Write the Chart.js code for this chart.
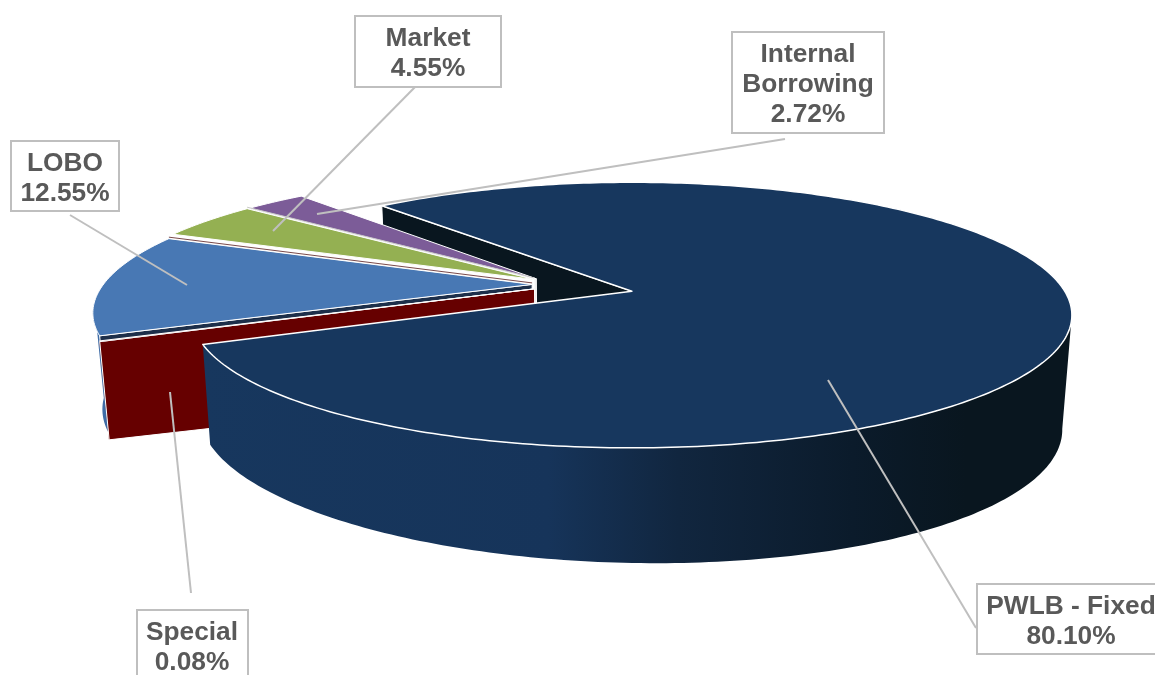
<!DOCTYPE html>
<html>
<head>
<meta charset="utf-8">
<title>Debt by type</title>
<script src="https://cdn.jsdelivr.net/npm/chart.js@4"></script>
<style>
    html, body { margin: 0; padding: 0; background: #ffffff; overflow: hidden; }
    #pieChart { display: block; }
</style>
</head>
<body>
<canvas id="pieChart" width="1155" height="675"></canvas>
<script>
// Chart data
const categories = ['PWLB - Fixed', 'Special', 'LOBO', 'Market', 'Internal Borrowing'];
const shares = [80.10, 0.08, 12.55, 4.55, 2.72];

// Slice styles
const topColors = ['#17375e', '#660000', '#4878b4', '#94b052', '#7c5c98'];
const rimColors = ['#09161f', '#660000', '#3f6ca6', '#94b052', '#7c5c98'];
const cutColors = ['#09161f', '#660000', '#1d2f4a', '#ffffff', '#eeeeee'];
const explode = [0.236, 0.0, 0.0, 0.0, 0.0];
const nudgeX = [0, 0.004, -0.003, 0, 0.005];
const nudgeY = [0, 0.035, 0, -0.04, -0.045];
const startRotation = -41;

// Perspective of the top and bottom planes of the pie
const baseCentre = { x: -0.23, y: -0.075 };
const topPlane = { x0: 632, y0: 294, ax: 434.5, ay: 129.5, shear: 0 };
const bottomPlane = { x0: 631, y0: 399, ax: 426, ay: 138, shear: 0.019 };
const tilt = 0.18;

// Part of the rim that faces the viewer
const wallFrom = 10 * Math.PI / 180;
const wallTo = 172 * Math.PI / 180;

// Label boxes
const labelLayout = [
    { lines: ['PWLB - Fixed'], box: [977, 584, 188, 70], cx: 1071, from: [976, 628], to: [828, 380] },
    { lines: ['Special'], box: [137, 610, 111, 72], cx: 192, from: [191, 593], to: [170, 392] },
    { lines: ['LOBO'], box: [11, 141, 108, 70], cx: 65, from: [70, 215], to: [187, 285] },
    { lines: ['Market'], box: [355, 16, 146, 71], cx: 428, from: [418, 84], to: [273, 231] },
    { lines: ['Internal', 'Borrowing'], box: [732, 32, 152, 101], cx: 808, from: [785, 139], to: [317, 214] }
];

function project(plane, px, py) {
    const s = 1 / (1 - tilt * py);
    return {
        x: plane.x0 + plane.ax * px * s,
        y: plane.y0 + plane.ay * py * s + plane.shear * plane.ax * px * s
    };
}

function sliceApex(arc, index) {
    const { startAngle, endAngle } = arc.getProps(['startAngle', 'endAngle'], true);
    const mid = (startAngle + endAngle) / 2;
    return {
        x: baseCentre.x + nudgeX[index] + Math.cos(mid) * explode[index],
        y: baseCentre.y + nudgeY[index] + Math.sin(mid) * explode[index]
    };
}

function arcPoints(plane, apex, start, end) {
    const steps = Math.max(2, Math.ceil((end - start) * 60));
    const points = [];
    for (let i = 0; i <= steps; i++) {
        const a = start + (end - start) * i / steps;
        points.push(project(plane, apex.x + Math.cos(a), apex.y + Math.sin(a)));
    }
    return points;
}

function tracePath(ctx, points) {
    ctx.beginPath();
    points.forEach((p, i) => {
        if (i === 0) ctx.moveTo(p.x, p.y);
        else ctx.lineTo(p.x, p.y);
    });
    ctx.closePath();
}

function drawOuterWall(ctx, index, arc, fill) {
    const { startAngle, endAngle } = arc.getProps(['startAngle', 'endAngle'], true);
    const from = Math.max(startAngle, wallFrom);
    const to = Math.min(endAngle, wallTo);
    if (to <= from) return;

    const apex = sliceApex(arc, index);
    const topArc = arcPoints(topPlane, apex, from, to);
    const bottomArc = arcPoints(bottomPlane, apex, from, to);

    tracePath(ctx, topArc.concat(bottomArc.reverse()));
    ctx.fillStyle = fill || rimColors[index];
    ctx.fill();
}

function drawStartWall(ctx, index, arc) {
    const { startAngle } = arc.getProps(['startAngle'], true);
    const apex = sliceApex(arc, index);
    const rimX = apex.x + Math.cos(startAngle);
    const rimY = apex.y + Math.sin(startAngle);

    tracePath(ctx, [
        project(topPlane, apex.x, apex.y),
        project(topPlane, rimX, rimY),
        project(bottomPlane, rimX, rimY),
        project(bottomPlane, apex.x, apex.y)
    ]);
    ctx.fillStyle = cutColors[index];
    ctx.fill();
    ctx.strokeStyle = '#ffffff';
    ctx.lineWidth = 1;
    ctx.stroke();
}

function drawSliceTop(ctx, index, arc) {
    const { startAngle, endAngle } = arc.getProps(['startAngle', 'endAngle'], true);
    const apex = sliceApex(arc, index);
    const points = [project(topPlane, apex.x, apex.y)].concat(arcPoints(topPlane, apex, startAngle, endAngle));

    tracePath(ctx, points);
    ctx.fillStyle = topColors[index];
    ctx.fill();
    ctx.strokeStyle = '#ffffff';
    ctx.lineWidth = index === 0 ? 1.5 : 1;
    ctx.stroke();
}

// Thin dark line just above the far edge of a slice
function drawEdgeTint(ctx, index, arc, color) {
    const { endAngle } = arc.getProps(['endAngle'], true);
    const apex = sliceApex(arc, index);
    const a = project(topPlane, apex.x, apex.y);
    const b = project(topPlane, apex.x + Math.cos(endAngle), apex.y + Math.sin(endAngle));
    ctx.beginPath();
    ctx.moveTo(a.x, a.y - 1.5);
    ctx.lineTo(b.x, b.y - 1.5);
    ctx.strokeStyle = color;
    ctx.lineWidth = 1;
    ctx.stroke();
}

// Replaces the flat pie drawing with the tilted one, using the arcs the library computed
const pie3dPlugin = {
    id: 'pie3d',
    beforeDatasetsDraw(chart) {
        const ctx = chart.ctx;
        const arcs = chart.getDatasetMeta(0).data;
        const backToFront = [4, 3, 2, 1];

        ctx.save();
        ctx.lineJoin = 'round';
        drawStartWall(ctx, 0, arcs[0]);

        backToFront.forEach((i) => {
            drawOuterWall(ctx, i, arcs[i]);
            drawStartWall(ctx, i, arcs[i]);
            drawSliceTop(ctx, i, arcs[i]);
        });
        drawEdgeTint(ctx, 2, arcs[2], '#7a4a4a');
        drawEdgeTint(ctx, 3, arcs[3], '#c8c8c8');

        // Wall of the big slice fades to the right
        const wallFill = ctx.createLinearGradient(200, 0, 1070, 0);
        wallFill.addColorStop(0, '#17375e');
        wallFill.addColorStop(0.4, '#16345a');
        wallFill.addColorStop(0.55, '#11263f');
        wallFill.addColorStop(0.75, '#0b1b2b');
        wallFill.addColorStop(0.88, '#09161f');
        wallFill.addColorStop(1, '#09161f');
        drawOuterWall(ctx, 0, arcs[0], wallFill);
        drawSliceTop(ctx, 0, arcs[0]);
        ctx.restore();
        return false;
    },
    afterDraw(chart) {
        const ctx = chart.ctx;
        ctx.save();

        // Leader lines
        ctx.strokeStyle = '#bfbfbf';
        ctx.lineWidth = 2;
        labelLayout.forEach((label) => {
            ctx.beginPath();
            ctx.moveTo(label.from[0], label.from[1]);
            ctx.lineTo(label.to[0], label.to[1]);
            ctx.stroke();
        });

        // Boxes and text
        ctx.font = 'bold 26.3px "Liberation Sans", Arial, sans-serif';
        ctx.textAlign = 'center';
        ctx.textBaseline = 'middle';
        labelLayout.forEach((label, i) => {
            const [x, y, w, h] = label.box;
            ctx.fillStyle = '#ffffff';
            ctx.fillRect(x, y, w, h);
            ctx.strokeStyle = '#bfbfbf';
            ctx.lineWidth = 2;
            ctx.strokeRect(x, y, w, h);

            const lines = label.lines.concat(shares[i].toFixed(2) + '%');
            ctx.fillStyle = '#595959';
            lines.forEach((line, n) => {
                ctx.fillText(line, label.cx, y + 22.5 + n * 30);
            });
        });
        ctx.restore();
    }
};

new Chart(document.getElementById('pieChart'), {
    type: 'pie',
    data: {
        labels: categories,
        datasets: [{
            data: shares,
            backgroundColor: topColors,
            borderWidth: 0
        }]
    },
    options: {
        responsive: false,
        animation: false,
        rotation: startRotation,
        layout: { padding: 0 },
        plugins: {
            legend: { display: false },
            tooltip: { enabled: false }
        }
    },
    plugins: [pie3dPlugin]
});
</script>
</body>
</html>
